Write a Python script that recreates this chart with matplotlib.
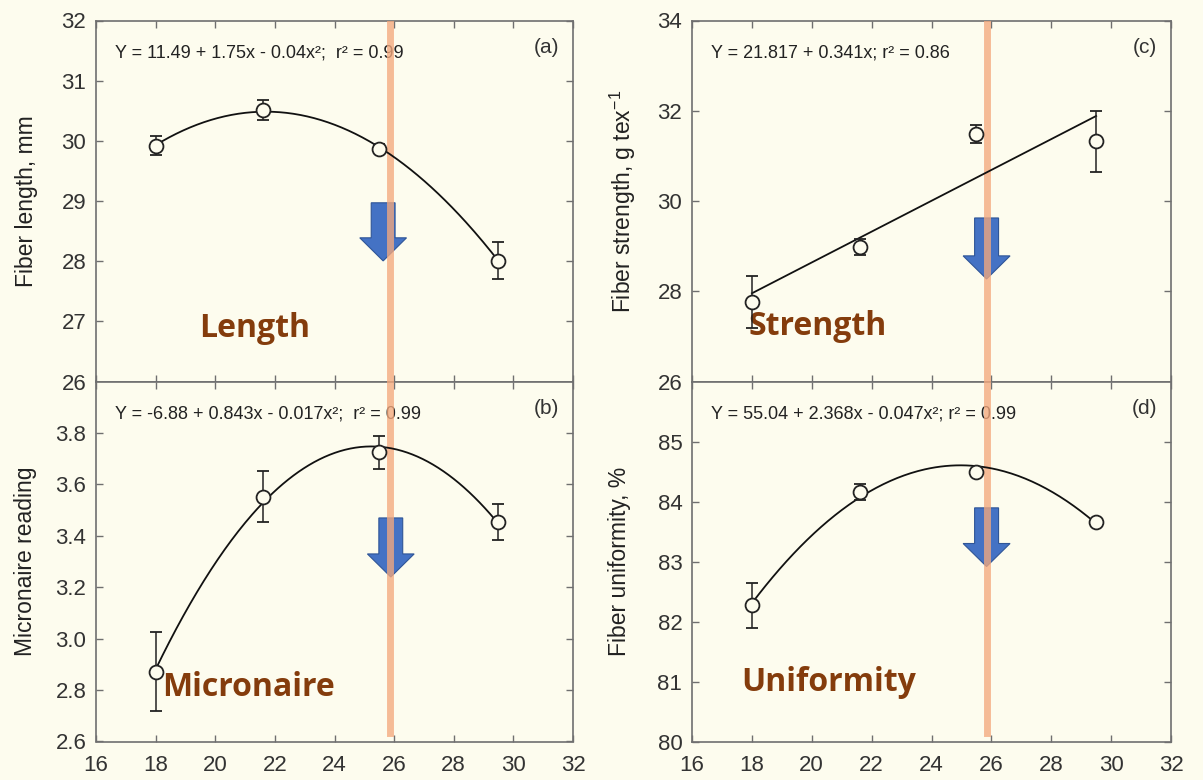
import numpy as np
import matplotlib
matplotlib.use("Agg")
import matplotlib.pyplot as plt
from matplotlib.patches import Polygon
from matplotlib.ticker import FormatStrFormatter

plt.rcParams['font.family'] = ['Liberation Sans', 'DejaVu Sans']
plt.rcParams['mathtext.fontset'] = 'custom'
plt.rcParams['mathtext.rm'] = 'Liberation Sans'
plt.rcParams['mathtext.default'] = 'regular'

# temperature (x) values
temp = [18.0, 21.6, 25.5, 29.5]

# (a) fiber length, mm
length = [29.92, 30.51, 29.87, 28.01]
length_err = [0.16, 0.17, 0.08, 0.31]
# (b) micronaire reading
micronaire = [2.872, 3.552, 3.724, 3.454]
micronaire_err = [0.153, 0.10, 0.063, 0.07]
# (c) fiber strength, g tex-1
strength = [27.76, 28.98, 31.48, 31.32]
strength_err = [0.57, 0.18, 0.20, 0.68]
# (d) fiber uniformity, %
uniformity = [82.27, 84.16, 84.50, 83.66]
uniformity_err = [0.37, 0.13, 0.05, 0.03]

threshold = 25.85

bg = '#fdfcee'
frame = '#6f6f6f'
brown = '#843c0c'

fig = plt.figure(figsize=(12.03, 7.80), dpi=100, facecolor=bg)

W, H = 1203.0, 780.0
def box(x0, x1, ytop, ybot):
    return [x0 / W, 1 - ybot / H, (x1 - x0) / W, (ybot - ytop) / H]

ax_a = fig.add_axes(box(96, 573, 20.5, 381.5))
ax_b = fig.add_axes(box(96, 573, 381.5, 741.5))
ax_c = fig.add_axes(box(692, 1171, 20.5, 381.5))
ax_d = fig.add_axes(box(692, 1171, 381.5, 741.5))

panels = [
    (ax_a, length, length_err, 2, (26, 32), np.arange(26, 33, 1), '%d',
     'Fiber length, mm', 16.5, -0.122,
     'Y = 11.49 + 1.75x - 0.04x²;  r² = 0.99', '(a)', 'Length',
     (0.333, 0.148), (0.602, 0.495, 0.334), True),
    (ax_b, micronaire, micronaire_err, 2, (2.6, 4.0), np.arange(2.6, 3.9, 0.2), '%.1f',
     'Micronaire reading', 16.5, -0.124,
     'Y = -6.88 + 0.843x - 0.017x²;  r² = 0.99', '(b)', 'Micronaire',
     (0.319, 0.149), (0.618, 0.621, 0.457), False),
    (ax_c, strength, strength_err, 1, (26, 34), np.arange(26, 35, 2), '%d',
     'Fiber strength, g tex$^{-1}$', 16.5, -0.113,
     'Y = 21.817 + 0.341x; r² = 0.86', '(c)', 'Strength',
     (0.263, 0.151), (0.615, 0.453, 0.284), True),
    (ax_d, uniformity, uniformity_err, 2, (80, 86), np.arange(80, 86, 1), '%d',
     'Fiber uniformity, %', 16.5, -0.127,
     'Y = 55.04 + 2.368x - 0.047x²; r² = 0.99', '(d)', 'Uniformity',
     (0.286, 0.165), (0.615, 0.649, 0.486), False),
]

for (ax, y, err, deg, ylim, yticks, fmt, ylabel, ylsize, ylx, eq, tag, word,
     wpos, arr, top) in panels:
    ax.set_facecolor(bg)
    ax.set_xlim(16, 32)
    ax.set_ylim(*ylim)
    ax.set_xticks(np.arange(16, 33, 2))
    ax.set_yticks(yticks)
    ax.yaxis.set_major_formatter(FormatStrFormatter(fmt))
    for s in ax.spines.values():
        s.set_color(frame)
        s.set_linewidth(1.2)
    ax.tick_params(direction='in', top=True, right=True, length=5, width=1,
                   color=frame, labelsize=16, labelcolor='#333333')
    ax.tick_params(axis='y', pad=7)
    ax.tick_params(axis='x', pad=10)
    if top:
        ax.tick_params(labelbottom=False)

    # fitted curve
    coef = np.polyfit(temp, y, deg)
    xs = np.linspace(temp[0], temp[-1], 200)
    ax.plot(xs, np.polyval(coef, xs), color='#111111', lw=1.3, zorder=5)
    ax.errorbar(temp, y, yerr=err, fmt='o', mfc=bg, mec='#222222', mew=1.3,
                ms=10, ecolor='#222222', elinewidth=1.1, capsize=4, capthick=1.1,
                zorder=6)

    # threshold line
    if top:
        ax.axvline(threshold, color='#f4a97e', alpha=0.78, lw=5, zorder=4)
    else:
        ax.axvline(threshold, ymin=0.024, ymax=1, color='#f4a97e', alpha=0.78,
                   lw=5, zorder=4)

    # down arrow
    cx, ytop, ytip = arr
    sw, hw, hl = 0.025, 0.049, 0.064
    pts = [(cx - sw, ytop), (cx + sw, ytop), (cx + sw, ytip + hl), (cx + hw, ytip + hl),
           (cx, ytip), (cx - hw, ytip + hl), (cx - sw, ytip + hl)]
    ax.add_patch(Polygon(pts, closed=True, transform=ax.transAxes,
                         facecolor='#4472c4', edgecolor='#2f5597', lw=0.8, zorder=3))

    ax.set_ylabel(ylabel, fontsize=ylsize, color='#222222')
    ax.yaxis.set_label_coords(ylx, 0.5)
    ax.text(0.04, 0.91, eq, transform=ax.transAxes, fontsize=13,
            ha='left', va='center', color='#222222')
    ax.text(0.945, 0.925, tag, transform=ax.transAxes, fontsize=15,
            ha='center', va='center', color='#333333')
    ax.text(wpos[0], wpos[1], word, transform=ax.transAxes, fontsize=23,
            family=['Open Sans', 'DejaVu Sans'], fontweight='bold', color=brown,
            ha='center', va='center')

fig.savefig('out.png', dpi=100, facecolor=bg)
